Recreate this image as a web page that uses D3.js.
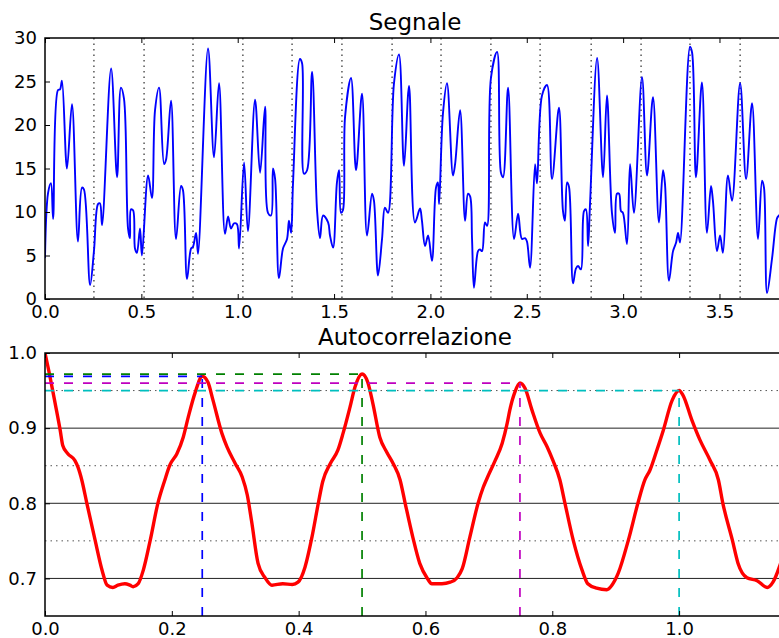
<!DOCTYPE html>
<html><head><meta charset="utf-8">
<script src="https://cdn.jsdelivr.net/npm/d3@7"></script>
<style>
html,body{margin:0;padding:0;background:#fff;}
svg{display:block;font-family:"DejaVu Sans",sans-serif;}
</style></head>
<body><svg id="c" width="779" height="638"></svg>
<script>
// ---------- data ----------
const sigT = [0.000,0.016,0.031,0.042,0.067,0.078,0.088,0.114,0.140,0.171,0.192,0.202,0.234,0.254,0.275,0.285,0.296,
0.343,0.374,0.394,0.410,0.431,0.441,0.446,0.457,0.467,0.477,0.493,0.503,0.535,0.555,0.571,0.592,0.618,0.628,0.654,
0.680,0.706,0.716,0.737,0.758,0.768,0.784,0.794,0.846,0.877,0.903,0.934,0.950,0.965,0.981,0.996,1.007,1.033,1.053,
1.090,1.116,1.142,1.157,1.173,1.183,1.194,1.214,1.235,1.256,1.266,1.277,1.287,1.323,1.334,1.344,1.360,1.386,1.412,
1.427,1.443,1.469,1.479,1.495,1.515,1.526,1.536,1.546,1.557,1.588,1.614,1.645,1.671,1.697,1.707,1.728,1.749,1.764,
1.780,1.811,1.837,1.863,1.889,1.920,1.946,1.956,1.972,1.988,2.008,2.029,2.039,2.045,2.065,2.086,2.117,2.128,2.154,
2.180,2.195,2.206,2.216,2.226,2.247,2.257,2.268,2.283,2.294,2.314,2.346,2.366,2.377,2.403,2.434,2.455,2.475,2.491,
2.501,2.517,2.543,2.553,2.579,2.605,2.631,2.667,2.688,2.698,2.709,2.719,2.740,2.755,2.766,2.781,2.797,2.807,2.818,
2.828,2.865,2.896,2.916,2.942,2.958,2.968,2.979,2.989,2.999,3.020,3.036,3.056,3.098,3.124,3.155,3.186,3.207,3.217,
3.238,3.259,3.275,3.285,3.295,3.347,3.358,3.378,3.409,3.435,3.456,3.466,3.487,3.503,3.518,3.544,3.565,3.607,3.638,
3.669,3.700,3.721,3.731,3.747,3.773,3.799,3.809,3.830];
const sigV = [4.7,12.2,13.3,9.2,24.0,24.1,25.1,15.0,22.4,6.6,12.8,12.6,1.6,5.5,10.9,11.0,8.5,
26.5,14.0,24.3,23.0,8.1,7.0,10.3,10.2,5.8,5.3,8.1,5.0,14.2,11.6,21.7,24.3,15.5,16.0,22.8,
6.9,13.0,12.5,2.3,5.8,6.0,7.6,5.2,28.8,16.3,24.8,7.5,9.5,8.1,8.7,8.6,5.8,15.7,7.8,
22.9,14.5,22.1,9.9,9.6,15.0,13.8,2.4,5.8,6.9,9.0,7.6,13.3,27.6,27.1,14.4,14.8,26.1,10.1,
7.0,9.6,8.8,7.3,5.9,13.4,14.8,9.9,10.2,20.9,25.4,14.8,23.6,7.3,12.1,11.3,2.7,6.9,10.5,
9.9,24.8,28.1,15.3,24.5,8.8,10.4,9.0,6.1,7.3,4.4,12.8,13.4,10.9,21.3,24.8,14.2,15.5,21.7,
9.0,12.1,11.8,6.9,1.3,5.5,5.7,5.5,8.8,8.4,25.4,28.4,14.5,14.0,24.3,6.9,9.8,6.9,7.0,
6.6,3.6,15.5,13.3,23.4,24.6,13.8,22.0,10.1,9.0,13.4,12.9,1.8,3.5,3.8,3.4,10.1,10.3,6.1,
10.8,27.7,14.0,23.4,9.9,7.6,12.1,12.1,10.1,9.9,6.3,15.5,9.9,25.5,14.2,23.2,8.8,14.8,13.3,
2.1,5.5,6.5,7.6,6.5,29.0,28.3,14.0,24.9,7.6,13.0,11.3,5.5,7.3,5.3,14.2,11.3,24.8,13.8,
22.5,6.9,13.6,12.8,0.7,4.7,9.3,9.6,10.2];
const periodMarks = [0.254,0.514,0.768,1.027,1.282,1.541,1.801,2.055,2.314,2.569,2.834,3.093,3.347,3.607];

const acLag = [0.000,0.008,0.016,0.024,0.028,0.036,0.047,0.052,0.058,0.066,0.079,0.090,0.098,0.107,0.115,0.126,0.134,
0.139,0.147,0.155,0.166,0.178,0.189,0.197,0.208,0.218,0.226,0.237,0.248,0.257,0.265,0.279,0.287,0.300,0.311,0.319,
0.326,0.336,0.347,0.358,0.375,0.390,0.399,0.410,0.421,0.431,0.438,0.450,0.462,0.470,0.481,0.489,0.500,0.509,0.517,
0.528,0.539,0.549,0.560,0.568,0.580,0.591,0.603,0.610,0.626,0.639,0.650,0.658,0.670,0.683,0.691,0.697,0.710,0.721,
0.729,0.733,0.741,0.749,0.757,0.768,0.781,0.792,0.801,0.812,0.820,0.833,0.847,0.856,0.870,0.886,0.894,0.904,0.920,
0.935,0.946,0.954,0.965,0.975,0.989,1.000,1.006,1.020,1.033,1.049,1.062,1.069,1.084,1.093,1.107,1.123,1.139,1.148,
1.158,1.167];
const acV = [1.000,0.968,0.933,0.897,0.877,0.866,0.857,0.848,0.831,0.800,0.751,0.711,0.691,0.688,0.691,0.693,0.691,
0.689,0.693,0.711,0.751,0.800,0.831,0.851,0.866,0.888,0.915,0.948,0.969,0.961,0.937,0.893,0.875,0.853,0.835,0.811,
0.775,0.720,0.701,0.691,0.693,0.692,0.695,0.715,0.755,0.800,0.829,0.853,0.871,0.893,0.928,0.955,0.972,0.961,0.933,
0.888,0.868,0.853,0.831,0.800,0.755,0.720,0.700,0.693,0.693,0.695,0.701,0.713,0.755,0.800,0.821,0.833,0.857,0.880,
0.907,0.924,0.948,0.960,0.953,0.924,0.893,0.875,0.857,0.831,0.800,0.751,0.711,0.693,0.687,0.685,0.691,0.707,0.751,
0.800,0.831,0.844,0.871,0.897,0.937,0.950,0.944,0.911,0.884,0.857,0.831,0.800,0.751,0.720,0.701,0.697,0.688,0.695,
0.715,0.740];
const peakLags = [0.248, 0.500, 0.749, 1.000];
const peakVals = [0.969, 0.972, 0.960, 0.950];

const topXTicks = [0,0.5,1,1.5,2,2.5,3,3.5];
const topYTicks = [0,5,10,15,20,25,30];
const botXTicks = [0,0.2,0.4,0.6,0.8,1.0];
const botYTicks = [0.7,0.8,0.9,1.0];
const botMinorY = [0.75,0.85,0.95];
const titles = ["Segnale","Autocorrelazione"];

// ---------- styles ----------
const peakColors = ["#0000ff","#008000","#bf00bf","#00bfbf"];
const svg = d3.select("#c");
const L = 45, R = 785;
const FS = 18, TFS = 23;

function frame(g, x, y, top, bottom, xt, yt, xfmt, yfmt){
  const ax = g.append("g").attr("transform",`translate(0,${bottom})`)
    .call(d3.axisBottom(x).tickValues(xt).tickFormat(xfmt).tickSizeInner(-5).tickSizeOuter(0).tickPadding(6.5));
  const axT = g.append("g").attr("transform",`translate(0,${top})`)
    .call(d3.axisTop(x).tickValues(xt).tickFormat("").tickSizeInner(-5).tickSizeOuter(0));
  const ay = g.append("g").attr("transform",`translate(${L},0)`)
    .call(d3.axisLeft(y).tickValues(yt).tickFormat(yfmt).tickSizeInner(-5).tickSizeOuter(0).tickPadding(8));
  [ax,axT,ay].forEach(a=>{
    a.select(".domain").remove();
    a.selectAll("line").attr("stroke","#000").attr("stroke-width",1);
    a.selectAll("text").attr("font-size",FS).attr("font-family","DejaVu Sans").attr("fill","#000");
  });
  g.append("rect").attr("x",L).attr("y",top).attr("width",R-L).attr("height",bottom-top)
    .attr("fill","none").attr("stroke","#000").attr("stroke-width",1.5);
}

// ---------- top panel ----------
const t1 = 38, b1 = 299;
const x1 = d3.scaleLinear().domain([0,3.84]).range([L,R]);
const y1 = d3.scaleLinear().domain([0,30]).range([b1,t1]);
const g1 = svg.append("g");
g1.append("defs").append("clipPath").attr("id","cp1").append("rect")
  .attr("x",L).attr("y",t1).attr("width",R-L).attr("height",b1-t1);
g1.selectAll("line.pm").data(periodMarks).join("line").attr("class","pm")
  .attr("x1",d=>x1(d)).attr("x2",d=>x1(d)).attr("y1",t1).attr("y2",b1)
  .attr("stroke","#000").attr("stroke-width",1).attr("stroke-dasharray","1.5,4");
const sig = sigT.map((t,i)=>[t,sigV[i]]);
g1.append("path").datum(sig).attr("clip-path","url(#cp1)")
  .attr("d",d3.line().x(d=>x1(d[0])).y(d=>y1(d[1])).curve(d3.curveCatmullRom.alpha(0.5)))
  .attr("fill","none").attr("stroke","#0000ff").attr("stroke-width",1.9).attr("stroke-linejoin","round");
frame(g1,x1,y1,t1,b1,topXTicks,topYTicks,d3.format(".1f"),d3.format("d"));
g1.append("text").attr("x",(L+R)/2).attr("y",t1-8).attr("text-anchor","middle")
  .attr("font-size",TFS).text(titles[0]);

// ---------- bottom panel ----------
const t2 = 353, b2 = 616;
const x2 = d3.scaleLinear().domain([0,1.167]).range([L,R]);
const y2 = d3.scaleLinear().domain([0.65,1.0]).range([b2,t2]);
const g2 = svg.append("g");
g2.append("defs").append("clipPath").attr("id","cp2").append("rect")
  .attr("x",L).attr("y",t2).attr("width",R-L).attr("height",b2-t2);
g2.selectAll("line.mg").data(botMinorY).join("line").attr("class","mg")
  .attr("x1",L).attr("x2",R).attr("y1",d=>y2(d)).attr("y2",d=>y2(d))
  .attr("stroke","#555").attr("stroke-width",1).attr("stroke-dasharray","1.5,4");
g2.selectAll("line.Mg").data(botYTicks.filter(v=>v<1)).join("line").attr("class","Mg")
  .attr("x1",L).attr("x2",R).attr("y1",d=>y2(d)).attr("y2",d=>y2(d))
  .attr("stroke","#222").attr("stroke-width",1);
const ac = acLag.map((t,i)=>[t,acV[i]]);
g2.append("path").datum(ac).attr("clip-path","url(#cp2)")
  .attr("d",d3.line().x(d=>x2(d[0])).y(d=>y2(d[1])).curve(d3.curveMonotoneX))
  .attr("fill","none").attr("stroke","#ff0000").attr("stroke-width",3.4).attr("stroke-linejoin","round");
peakLags.forEach((lag,i)=>{
  g2.append("line").attr("x1",x2(0)).attr("x2",x2(lag)).attr("y1",y2(peakVals[i])).attr("y2",y2(peakVals[i]))
    .attr("stroke",peakColors[i]).attr("stroke-width",1.7).attr("stroke-dasharray","9,10");
  g2.append("line").attr("x1",x2(lag)).attr("x2",x2(lag)).attr("y1",y2(0.65)).attr("y2",y2(peakVals[i]))
    .attr("stroke",peakColors[i]).attr("stroke-width",1.7).attr("stroke-dasharray","9,10");
});
frame(g2,x2,y2,t2,b2,botXTicks,botYTicks,d3.format(".1f"),d3.format(".1f"));
g2.append("text").attr("x",(L+R)/2).attr("y",t2-8).attr("text-anchor","middle")
  .attr("font-size",TFS).text(titles[1]);
</script></body></html>
